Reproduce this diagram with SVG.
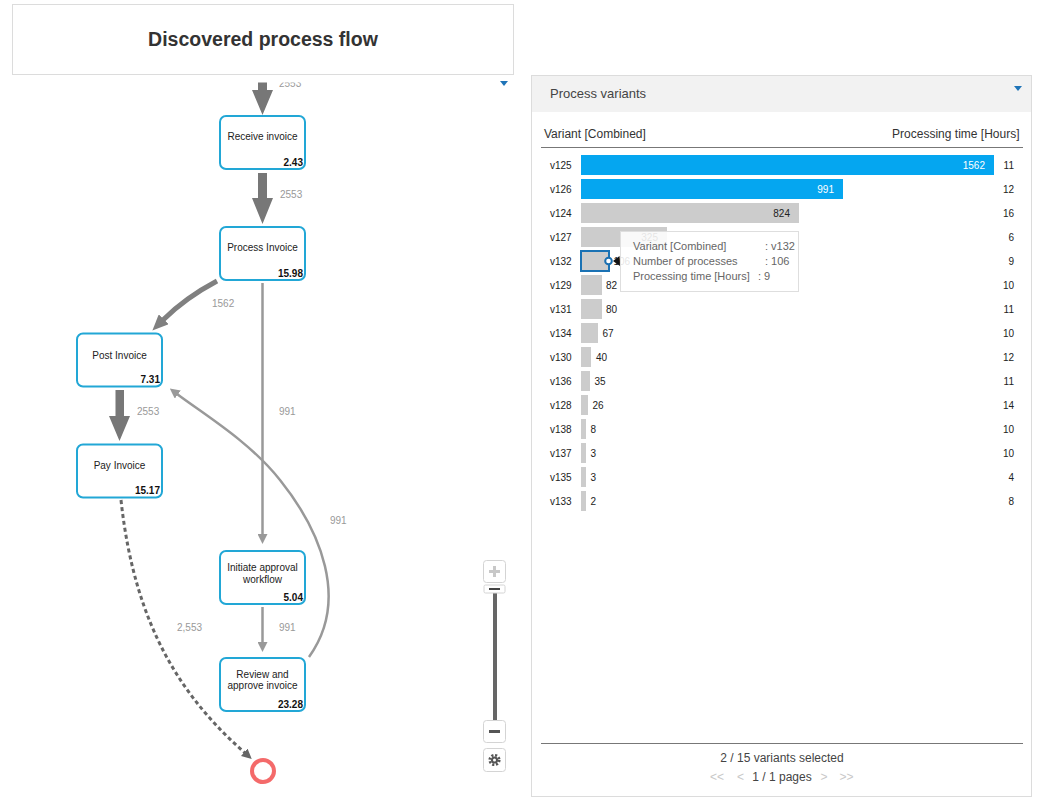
<svg xmlns="http://www.w3.org/2000/svg" width="1049" height="801" viewBox="0 0 1049 801">
<style>
.node rect{fill:#fff;stroke:#22a7d6;stroke-width:2}
.nl{font-family:"Liberation Sans",Arial,sans-serif;font-size:10px;fill:#222;text-anchor:middle}
.nv{font-family:"Liberation Sans",Arial,sans-serif;font-size:10px;font-weight:bold;fill:#111;text-anchor:end}
.el{font-family:"Liberation Sans",Arial,sans-serif;font-size:10px;fill:#999}
.thick{fill:#777}
.thin{fill:none;stroke:#999;stroke-width:2.5}
.rl{font-family:"Liberation Sans",Arial,sans-serif;font-size:10px;fill:#222}
.rv{font-family:"Liberation Sans",Arial,sans-serif;font-size:10px;fill:#222;text-anchor:end}
.bg{fill:#cccccc}
.bb{fill:#05a6f0}
.wl{font-family:"Liberation Sans",Arial,sans-serif;font-size:10px;fill:#fff;text-anchor:end}
.bl{font-family:"Liberation Sans",Arial,sans-serif;font-size:10px;fill:#222;text-anchor:end}
.tt{font-family:"Liberation Sans",Arial,sans-serif;font-size:11px;fill:#666}
.btn{fill:#fff;stroke:#d4d4d4;stroke-width:1}
</style>
<defs>
<clipPath id="graphClip"><rect x="0" y="82.5" width="520" height="720"/></clipPath>
<marker id="hMed" markerUnits="userSpaceOnUse" markerWidth="16" markerHeight="14" refX="1" refY="7" orient="auto"><path d="M0,0 L16,7 L0,14 z" fill="#808080"/></marker>
<marker id="hThin" markerUnits="userSpaceOnUse" markerWidth="10" markerHeight="10" refX="1" refY="5" orient="auto"><path d="M0,0 L10,5 L0,10 z" fill="#999"/></marker>
<marker id="hDash" markerUnits="userSpaceOnUse" markerWidth="10" markerHeight="10" refX="1" refY="5" orient="auto"><path d="M0,0 L10,5 L0,10 z" fill="#666"/></marker>
</defs>
<rect width="1049" height="801" fill="#fff"/>

<g id="connectors">
  <g clip-path="url(#graphClip)">
    <path class="thick" d="M258,78 H267 V90 H273 L262.5,115 L252,90 H258 z"/>
    <text class="el" x="279" y="87">2553</text>
  </g>
  <path class="thick" d="M258,173 H267 V198 H273 L262.5,224 L252,198 H258 z"/>
  <text class="el" x="280" y="197.5">2553</text>
  <path d="M217,281 Q185,298 163,320" fill="none" stroke="#808080" stroke-width="5" marker-end="url(#hMed)"/>
  <text class="el" x="212" y="307">1562</text>
  <path class="thin" d="M262.5,283 V535" marker-end="url(#hThin)"/>
  <text class="el" x="279" y="415">991</text>
  <path class="thick" d="M115.5,390 H124 V416 H130 L119.5,441 L109,416 H115.5 z"/>
  <text class="el" x="137" y="415">2553</text>
  <path class="thin" d="M262.5,607 V643" marker-end="url(#hThin)"/>
  <text class="el" x="279" y="631">991</text>
  <path class="thin" d="M309,657 C350,600 320,530 280,480 C250,442 205,415 177,394" marker-end="url(#hThin)"/>
  <text class="el" x="330" y="524">991</text>
  <path d="M121,500 C135,630 185,700 245,753" fill="none" stroke="#666" stroke-width="3" stroke-dasharray="4 3" marker-end="url(#hDash)"/>
  <text class="el" x="177" y="631">2,553</text>
</g>

<g id="title">
  <rect x="12.5" y="4.5" width="501" height="70" fill="#fff" stroke="#dcdcdc"/>
  <text x="263" y="46" font-family="'Liberation Sans',Arial,sans-serif" font-size="19.5" font-weight="bold" fill="#333" text-anchor="middle">Discovered process flow</text>
</g>
<path d="M500,81 L508,81 L504,86 z" fill="#1f74b8"/>

<g id="n-receive" class="node"><rect x="220" y="116" width="85" height="53" rx="6"/><text class="nl" x="262.5" y="140">Receive invoice</text><text class="nv" x="303" y="165.5">2.43</text></g>
<g id="n-process" class="node"><rect x="220" y="227" width="85" height="53" rx="6"/><text class="nl" x="262.5" y="251">Process Invoice</text><text class="nv" x="303" y="276.5">15.98</text></g>
<g id="n-post" class="node"><rect x="77" y="333.5" width="85" height="53" rx="6"/><text class="nl" x="119.5" y="358.5">Post Invoice</text><text class="nv" x="160" y="383">7.31</text></g>
<g id="n-pay" class="node"><rect x="77" y="444.5" width="85" height="53" rx="6"/><text class="nl" x="119.5" y="469">Pay Invoice</text><text class="nv" x="160" y="494">15.17</text></g>
<g id="n-initiate" class="node"><rect x="220" y="551" width="85" height="53" rx="6"/><text class="nl" x="262.5" y="571">Initiate approval</text><text class="nl" x="262.5" y="582.5">workflow</text><text class="nv" x="303" y="601">5.04</text></g>
<g id="n-review" class="node"><rect x="220" y="658" width="85" height="53" rx="6"/><text class="nl" x="262.5" y="678">Review and</text><text class="nl" x="262.5" y="689">approve invoice</text><text class="nv" x="303" y="708">23.28</text></g>
<g id="n-end"><circle cx="263" cy="771" r="11" fill="#fff" stroke="#f46a6a" stroke-width="4"/></g>

<g id="zoom-control">
  <rect class="btn" x="483.5" y="560.5" width="22" height="22" rx="3"/>
  <path d="M494.5,566 V577 M489,571.5 H500" stroke="#c8c8c8" stroke-width="3"/>
  <rect x="493" y="590" width="4" height="130" fill="#666"/>
  <rect class="btn" x="484" y="585" width="21" height="8" rx="1.5" fill="#f7f7f7"/>
  <path d="M489,589 H500" stroke="#444" stroke-width="2"/>
  <rect class="btn" x="483.5" y="720.5" width="22" height="22" rx="3"/>
  <path d="M489,731.5 H500" stroke="#555" stroke-width="3"/>
  <rect class="btn" x="483.5" y="748.5" width="22" height="23" rx="3"/>
  <circle cx="494.5" cy="760" r="4.8" fill="none" stroke="#555" stroke-width="2.6" stroke-dasharray="2.1 1.67"/>
  <circle cx="494.5" cy="760" r="3.6" fill="#555"/>
  <circle cx="494.5" cy="760" r="1.5" fill="#fff"/>
</g>

<g id="variants-panel">
  <rect x="531.5" y="75.5" width="500" height="721" fill="#fff" stroke="#dcdcdc"/>
  <rect x="532" y="76" width="499" height="36" fill="#f2f2f2"/>
  <text x="550" y="98" font-family="'Liberation Sans',Arial,sans-serif" font-size="13" fill="#444">Process variants</text>
  <path d="M1014,86 L1022,86 L1018,91 z" fill="#1f74b8"/>
  <text x="544" y="137.5" font-family="'Liberation Sans',Arial,sans-serif" font-size="12" fill="#333">Variant [Combined]</text>
  <text x="1019.5" y="137.5" font-family="'Liberation Sans',Arial,sans-serif" font-size="12" fill="#333" text-anchor="end">Processing time [Hours]</text>
  <path d="M541,147.5 H1023" stroke="#777" stroke-width="1"/>

  <g id="rows">
    <text class="rl" x="550" y="168.5">v125</text><rect class="bb" x="581" y="155" width="413" height="20"/><text class="wl" x="985" y="168.5">1562</text><text class="rv" x="1014" y="168.5">11</text>
    <text class="rl" x="550" y="192.5">v126</text><rect class="bb" x="581" y="179" width="262" height="20"/><text class="wl" x="834" y="192.5">991</text><text class="rv" x="1014" y="192.5">12</text>
    <text class="rl" x="550" y="216.5">v124</text><rect class="bg" x="581" y="203" width="218" height="20"/><text class="bl" x="790" y="216.5">824</text><text class="rv" x="1014" y="216.5">16</text>
    <text class="rl" x="550" y="240.5">v127</text><rect class="bg" x="581" y="227" width="86" height="20"/><text class="bl" x="658" y="240.5">325</text><text class="rv" x="1014" y="240.5">6</text>
    <text class="rl" x="550" y="264.5">v132</text><rect class="bg" x="581" y="251" width="28" height="20" stroke="#1a72b4" stroke-width="2"/><text class="rl" x="613.5" y="264.5">106</text><text class="rv" x="1014" y="264.5">9</text>
    <text class="rl" x="550" y="288.5">v129</text><rect class="bg" x="581" y="275" width="21" height="20"/><text class="rl" x="606" y="288.5">82</text><text class="rv" x="1014" y="288.5">10</text>
    <text class="rl" x="550" y="312.5">v131</text><rect class="bg" x="581" y="299" width="21" height="20"/><text class="rl" x="606" y="312.5">80</text><text class="rv" x="1014" y="312.5">11</text>
    <text class="rl" x="550" y="336.5">v134</text><rect class="bg" x="581" y="323" width="17" height="20"/><text class="rl" x="602.5" y="336.5">67</text><text class="rv" x="1014" y="336.5">10</text>
    <text class="rl" x="550" y="360.5">v130</text><rect class="bg" x="581" y="347" width="10" height="20"/><text class="rl" x="596" y="360.5">40</text><text class="rv" x="1014" y="360.5">12</text>
    <text class="rl" x="550" y="384.5">v136</text><rect class="bg" x="581" y="371" width="9" height="20"/><text class="rl" x="594.5" y="384.5">35</text><text class="rv" x="1014" y="384.5">11</text>
    <text class="rl" x="550" y="408.5">v128</text><rect class="bg" x="581" y="395" width="7" height="20"/><text class="rl" x="592.5" y="408.5">26</text><text class="rv" x="1014" y="408.5">14</text>
    <text class="rl" x="550" y="432.5">v138</text><rect class="bg" x="581" y="419" width="5" height="20"/><text class="rl" x="590.5" y="432.5">8</text><text class="rv" x="1014" y="432.5">10</text>
    <text class="rl" x="550" y="456.5">v137</text><rect class="bg" x="581" y="443" width="5" height="20"/><text class="rl" x="590.5" y="456.5">3</text><text class="rv" x="1014" y="456.5">10</text>
    <text class="rl" x="550" y="480.5">v135</text><rect class="bg" x="581" y="467" width="5" height="20"/><text class="rl" x="590.5" y="480.5">3</text><text class="rv" x="1014" y="480.5">4</text>
    <text class="rl" x="550" y="504.5">v133</text><rect class="bg" x="581" y="491" width="5" height="20"/><text class="rl" x="590.5" y="504.5">2</text><text class="rv" x="1014" y="504.5">8</text>
  </g>

  <g id="tooltip">
    <circle cx="608.5" cy="261" r="3.3" fill="#fff" stroke="#1a6fb0" stroke-width="2"/>
    <path d="M613,261 L619.5,256 L620,266 z" fill="#111"/>
    <rect x="620.5" y="231.5" width="178" height="60" fill="#fff" fill-opacity="0.88" stroke="#dedede"/>
    <text class="tt" x="633" y="250">Variant [Combined]</text><text class="tt" x="765" y="250">: v132</text>
    <text class="tt" x="633" y="265">Number of processes</text><text class="tt" x="765" y="265">: 106</text>
    <text class="tt" x="633" y="280">Processing time [Hours]</text><text class="tt" x="758" y="280">: 9</text>
  </g>

  <path d="M541,743.5 H1023" stroke="#777" stroke-width="1"/>
  <text x="782" y="762" font-family="'Liberation Sans',Arial,sans-serif" font-size="12" fill="#444" text-anchor="middle">2 / 15 variants selected</text>
  <g font-family="'Liberation Sans',Arial,sans-serif" font-size="12" text-anchor="middle">
    <text x="717" y="781" fill="#c8c8c8">&lt;&lt;</text>
    <text x="740.5" y="781" fill="#c8c8c8">&lt;</text>
    <text x="782" y="781" fill="#444">1 / 1 pages</text>
    <text x="824" y="781" fill="#c8c8c8">&gt;</text>
    <text x="846.5" y="781" fill="#c8c8c8">&gt;&gt;</text>
  </g>
</g>
</svg>
